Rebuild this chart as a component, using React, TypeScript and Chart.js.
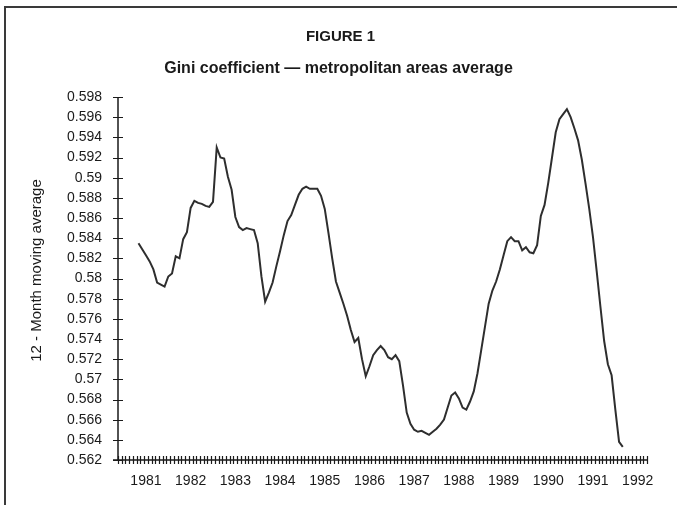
import { useEffect, useRef } from 'react';
import { Chart, registerables } from 'chart.js';

Chart.register(...registerables);

const titleText = 'FIGURE 1';
const subtitleText = 'Gini coefficient — metropolitan areas average';
const yAxisTitle = '12 - Month moving average';

// Monthly categories: June 1980 .. March 1992
const axisStartYear = 1980;
const axisStartMonth = 6;
const monthCount = 142;
// First observation: November 1980
const dataStartIndex = 5;

const yearLabels = ['1981', '1982', '1983', '1984', '1985', '1986', '1987', '1988', '1989', '1990', '1991', '1992'];

const yTicks = [
  0.562, 0.564, 0.566, 0.568, 0.57, 0.572, 0.574, 0.576, 0.578, 0.58,
  0.582, 0.584, 0.586, 0.588, 0.59, 0.592, 0.594, 0.596, 0.598,
];

const gini = [
  0.5835, 0.5829, 0.5823, 0.5817, 0.5809, 0.5796, 0.5794, 0.5792, 0.5802, 0.5805,
  0.5822, 0.5820, 0.5839, 0.5846, 0.5870, 0.5877, 0.5875, 0.5874, 0.5872, 0.5871,
  0.5876, 0.5930, 0.5920, 0.5919, 0.5901, 0.5888, 0.5861, 0.5851, 0.5848, 0.5850,
  0.5849, 0.5848, 0.5835, 0.5802, 0.5777, 0.5786, 0.5796, 0.5812, 0.5827, 0.5843,
  0.5857, 0.5863, 0.5873, 0.5883, 0.5889, 0.5891, 0.5889, 0.5889, 0.5889, 0.5882,
  0.5869, 0.5845, 0.5820, 0.5797, 0.5786, 0.5775, 0.5763, 0.5749, 0.5737, 0.5741,
  0.5720, 0.5703, 0.5713, 0.5724, 0.5729, 0.5733, 0.5729, 0.5722, 0.5720, 0.5724,
  0.5718, 0.5694, 0.5667, 0.5656, 0.5650, 0.5648, 0.5649, 0.5647, 0.5645, 0.5648,
  0.5651, 0.5655, 0.5660, 0.5672, 0.5684, 0.5687, 0.5681, 0.5672, 0.5670, 0.5678,
  0.5688, 0.5706, 0.5729, 0.5752, 0.5775, 0.5788, 0.5797, 0.5809, 0.5823, 0.5837,
  0.5841, 0.5837, 0.5837, 0.5828, 0.5831, 0.5826, 0.5825, 0.5833, 0.5862, 0.5873,
  0.5895, 0.5920, 0.5945, 0.5958, 0.5963, 0.5968, 0.5960, 0.5949, 0.5937, 0.5918,
  0.5894, 0.5869, 0.5841, 0.5807, 0.5772, 0.5738, 0.5715, 0.5704, 0.5670, 0.5638,
  0.5633,
];

const categories: string[] = [];
for (let i = 0; i < monthCount; i++) {
  const m = axisStartMonth - 1 + i;
  const yr = axisStartYear + Math.floor(m / 12);
  const mo = (m % 12) + 1;
  categories.push(`${yr}-${mo < 10 ? '0' + mo : mo}`);
}

const series = categories.map((_, i) =>
  i >= dataStartIndex && i < dataStartIndex + gini.length ? gini[i - dataStartIndex] : null
);

const FONT = '"Liberation Sans", Arial, sans-serif';
const INK = '#1a1a1a';

const decorPlugin = {
  id: 'decor',
  afterDraw(chart: any) {
    const { ctx, chartArea: a, scales } = chart;
    const x = scales.x;
    const y = scales.y;
    ctx.save();
    // outer frame (top & left edges visible)
    ctx.strokeStyle = '#3a3a3a';
    ctx.lineWidth = 2;
    ctx.beginPath();
    ctx.moveTo(5, chart.height);
    ctx.lineTo(5, 7);
    ctx.lineTo(chart.width, 7);
    ctx.stroke();

    // axes
    ctx.strokeStyle = INK;
    ctx.lineWidth = 1.5;
    ctx.beginPath();
    ctx.moveTo(a.left, a.top);
    ctx.lineTo(a.left, a.bottom);
    ctx.moveTo(a.left - 5, a.bottom);
    ctx.lineTo(a.right, a.bottom);
    ctx.stroke();

    // tick marks (crossing the axes)
    ctx.lineWidth = 1.2;
    ctx.beginPath();
    y.ticks.forEach((t: any) => {
      const py = Math.round(y.getPixelForValue(t.value)) + 0.5;
      ctx.moveTo(a.left - 5, py);
      ctx.lineTo(a.left + 5, py);
    });
    for (let i = 0; i <= categories.length; i++) {
      const px = Math.round(x.getPixelForValue(i - 0.5)) + 0.5;
      ctx.moveTo(px, a.bottom - 4);
      ctx.lineTo(px, a.bottom + 4);
    }
    ctx.stroke();

    // titles
    ctx.fillStyle = INK;
    ctx.textAlign = 'center';
    ctx.textBaseline = 'middle';
    ctx.font = `bold 15px ${FONT}`;
    ctx.fillText(titleText, chart.width / 2 + 2, 37);
    ctx.font = `bold 16px ${FONT}`;
    ctx.fillText(subtitleText, chart.width / 2, 69);

    // y-axis title
    ctx.translate(37, (a.top + a.bottom) / 2 - 8);
    ctx.rotate(-Math.PI / 2);
    ctx.font = `15px ${FONT}`;
    ctx.fillText(yAxisTitle, 0, 0);
    ctx.restore();
  },
};

export default function App() {
  const canvasRef = useRef<HTMLCanvasElement | null>(null);

  useEffect(() => {
    const canvas = canvasRef.current;
    if (!canvas) return;
    const chart = new Chart(canvas, {
      type: 'line',
      data: {
        labels: categories,
        datasets: [
          {
            data: series,
            borderColor: '#2e2e2e',
            borderWidth: 2,
            pointRadius: 0,
            tension: 0,
            fill: false,
            spanGaps: false,
          },
        ],
      },
      options: {
        animation: false,
        responsive: true,
        maintainAspectRatio: false,
        layout: { padding: { top: 97, right: 30, left: 0, bottom: 0 } },
        plugins: {
          legend: { display: false },
          tooltip: { enabled: false },
          title: { display: false },
        },
        scales: {
          x: {
            type: 'category',
            offset: true,
            grid: { display: false, drawTicks: false, offset: true },
            border: { display: false },
            ticks: {
              autoSkip: false,
              maxRotation: 0,
              minRotation: 0,
              padding: 13,
              color: INK,
              font: { family: FONT, size: 14 },
              callback: (_v: any, i: number) => {
                const c = categories[i];
                const [yr, mo] = c.split('-');
                return mo === '01' && yearLabels.includes(yr) ? yr : '';
              },
            },
            afterFit: (s: any) => {
              s.height = 45;
            },
          },
          y: {
            type: 'linear',
            min: yTicks[0],
            max: yTicks[yTicks.length - 1],
            grid: { display: false, drawTicks: false },
            border: { display: false },
            afterBuildTicks: (s: any) => {
              s.ticks = yTicks.map((v) => ({ value: v }));
            },
            ticks: {
              padding: 16,
              color: INK,
              font: { family: FONT, size: 14 },
              callback: (v: any) => String(Number(Number(v).toFixed(3))),
            },
            afterFit: (s: any) => {
              s.width = 118;
            },
          },
        },
      },
      plugins: [decorPlugin],
    });
    return () => chart.destroy();
  }, []);

  return (
    <div
      style={{
        position: 'fixed',
        left: 0,
        top: 0,
        width: 677,
        height: 505,
        background: '#fff',
      }}
    >
      <canvas ref={canvasRef} />
    </div>
  );
}
